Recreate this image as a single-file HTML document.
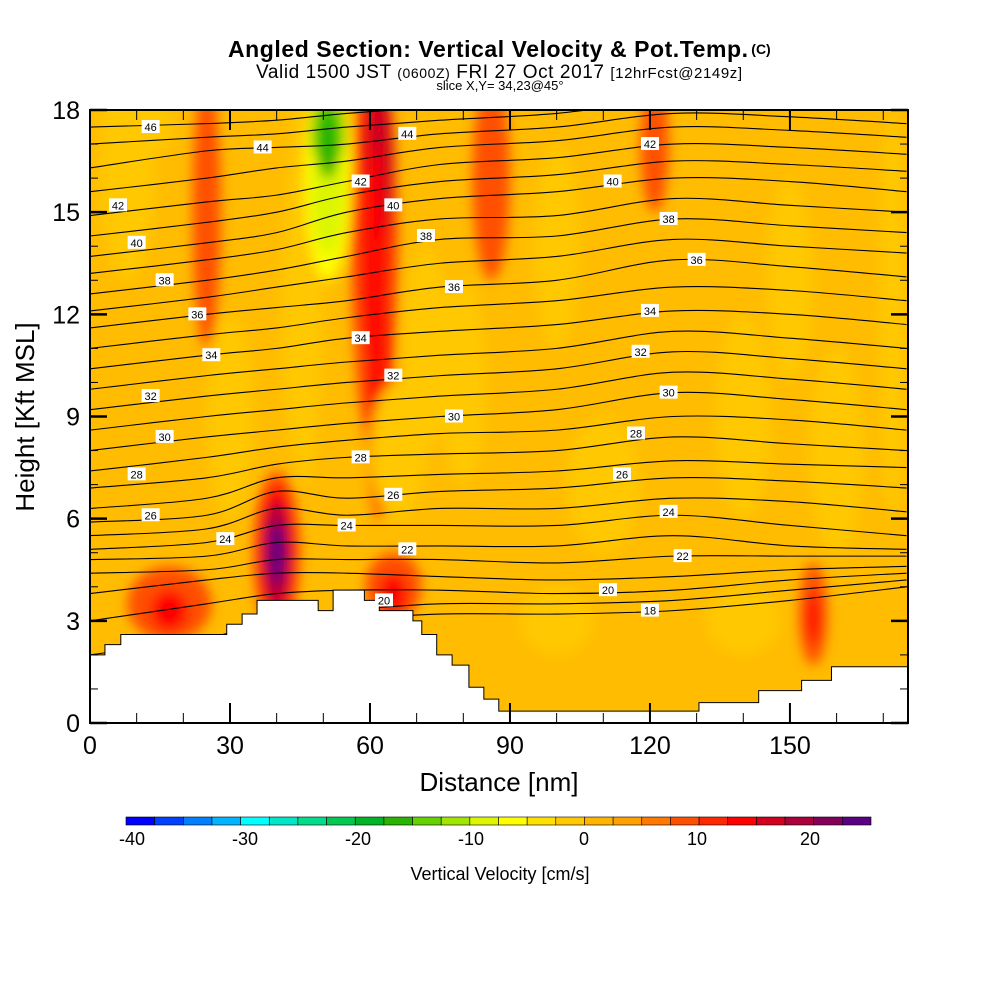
<!DOCTYPE html>
<html><head><meta charset="utf-8"><style>
body{margin:0;background:#fff;}
svg text{font-family:"Liberation Sans",sans-serif;}
</style></head><body>
<svg id="chart" width="1000" height="1000" viewBox="0 0 1000 1000" xmlns="http://www.w3.org/2000/svg">
<defs>
<clipPath id="plotclip"><rect x="90" y="110" width="818" height="613"/></clipPath>
<filter id="blur" x="-20%" y="-20%" width="140%" height="140%"><feGaussianBlur stdDeviation="6"/></filter>
</defs>
<g>
<text x="488" y="57" text-anchor="middle" font-size="23" font-weight="bold" textLength="520">Angled Section: Vertical Velocity &amp; Pot.Temp.</text>
<text x="761" y="54" text-anchor="middle" font-size="14" font-weight="bold">(C)</text>
<text x="499" y="78" text-anchor="middle" font-size="19" textLength="486">Valid 1500 JST <tspan font-size="14">(0600Z)</tspan> FRI 27 Oct 2017 <tspan font-size="15">[12hrFcst@2149z]</tspan></text>
<text x="500" y="90" text-anchor="middle" font-size="13">slice X,Y= 34,23@45°</text>
</g>
<g id="field" clip-path="url(#plotclip)"></g>
<g id="contours" clip-path="url(#plotclip)"></g>
<g id="terrain"></g>
<g id="labels"></g>
<rect x="90" y="110" width="818" height="613" fill="none" stroke="#000" stroke-width="2"/>
<g id="axes"></g>
<text x="499" y="791" text-anchor="middle" font-size="26">Distance [nm]</text>
<text transform="translate(34,417) rotate(-90)" text-anchor="middle" font-size="26">Height [Kft MSL]</text>
<g id="colorbar"></g>
<text x="500" y="880" text-anchor="middle" font-size="18">Vertical Velocity [cm/s]</text>
</svg>
<script>
const NS="http://www.w3.org/2000/svg";
const xTicks=[0,30,60,90,120,150];
const yTicks=[0,3,6,9,12,15,18];
const cbTicks=[-40,-30,-20,-10,0,10,20];
const cbColors=["#0000ff","#0040ff","#0080ff","#00b4ff","#00ffff","#00e6c8","#00dc8c","#00c850","#00b428","#28b400","#64d200","#a0e600","#dcf500","#ffff00","#ffe100","#ffc800","#ffb400","#ffa000","#ff7800","#ff5000","#ff2800","#ff0000","#d2001e","#aa003c","#82005a","#5a0082"];
const sampleX=[0,25,40,55,75,100,125,150,175];
const levels=[18,19,20,21,22,23,24,25,26,27,28,29,30,31,32,33,34,35,36,37,38,39,40,41,42,43,44,45,46];
const levelHeights=[
[1.5,1.8,2.5,3.0,3.2,3.2,3.3,3.6,4.0],
[2,2.5,3,3.3,3.5,3.5,3.6,3.9,4.2],
[3,3.5,3.8,3.9,3.9,3.8,3.9,4.2,4.4],
[3.8,4.2,4.4,4.4,4.3,4.2,4.3,4.5,4.6],
[4.4,4.5,4.8,4.8,4.8,4.7,4.9,4.9,4.9],
[4.8,4.9,5.3,5.2,5.2,5.2,5.5,5.2,5.1],
[5.1,5.3,5.8,5.8,5.8,5.8,6.1,5.8,5.5],
[5.5,5.7,6.3,6.1,6.3,6.3,6.6,6.5,6.2],
[5.9,6.1,6.8,6.6,6.8,6.9,7.2,7.1,6.9],
[6.3,6.6,7.2,7.2,7.3,7.4,7.7,7.6,7.5],
[6.9,7.2,7.6,7.8,7.9,8.0,8.4,8.2,8.0],
[7.4,7.8,8.1,8.3,8.5,8.6,9.0,8.9,8.6],
[8.0,8.4,8.6,8.8,9.0,9.2,9.7,9.5,9.2],
[8.6,9.0,9.2,9.4,9.6,9.8,10.3,10.1,9.8],
[9.2,9.6,9.8,10.0,10.2,10.4,10.9,10.7,10.4],
[9.8,10.2,10.4,10.6,10.8,11.0,11.5,11.3,11.0],
[10.4,10.8,11.0,11.3,11.5,11.7,12.1,12.0,11.7],
[11.0,11.4,11.6,11.9,12.2,12.4,12.8,12.7,12.4],
[11.6,12.0,12.2,12.4,12.8,13.0,13.6,13.4,13.1],
[12.1,12.5,12.8,13.1,13.5,13.7,14.2,14.0,13.8],
[12.6,13.0,13.3,13.7,14.2,14.3,14.8,14.6,14.4],
[13.2,13.6,13.9,14.4,14.8,14.9,15.4,15.2,15.0],
[13.7,14.1,14.4,15.0,15.4,15.6,16.0,15.9,15.6],
[14.3,14.7,15.0,15.5,15.9,16.1,16.5,16.4,16.2],
[14.9,15.3,15.5,15.9,16.4,16.6,17.0,16.9,16.7],
[15.6,16.0,16.3,16.5,16.9,17.1,17.5,17.4,17.2],
[16.3,16.8,16.9,17.0,17.3,17.5,17.9,17.8,17.6],
[17.0,17.2,17.3,17.5,17.7,17.9,18.3,18.2,18.0],
[17.5,17.6,17.7,17.9,18.1,18.3,18.6,18.5,18.4]];
const labelText=["46","44","42","40","38","36","34","32","30","28","26","24","44","42","40","38","36","34","32","30","28","26","24","22","20","42","40","38","36","34","32","30","28","26","24","22","20","18"];
const labelX=[13,37,6,10,16,23,26,13,16,10,13,29,68,58,65,72,78,58,65,78,58,65,55,68,63,120,112,124,130,120,118,124,117,114,124,127,111,120];
const labelY=[17.5,16.9,15.2,14.1,13.0,12.0,10.8,9.6,8.4,7.3,6.1,5.4,17.3,15.9,15.2,14.3,12.8,11.3,10.2,9.0,7.8,6.7,5.8,5.1,3.6,17.0,15.9,14.8,13.6,12.1,10.9,9.7,8.5,7.3,6.2,4.9,3.9,3.3];
const terrainX=[0,3.2,6.6,29.3,32.6,35.8,48.9,52.1,58.8,62.0,69.2,71.1,74.3,77.6,81.2,84.4,87.6,130.5,143.3,152.5,158.9,175.3];
const terrainK=[2.0,2.3,2.6,2.9,3.2,3.6,3.3,3.9,3.6,3.3,3.0,2.6,2.0,1.7,1.05,0.7,0.35,0.6,0.95,1.25,1.65,1.65];
// velocity blobs: x nm, kft, rx nm, ry kft, value cm/s
const blobX=[40,40,40,40, 61,61,62,62,61, 46,51,51,51,51,44, 25,86,121,10,172, 17,17,65,65,155,155, 8,66,100,140,110,150,72,160,100,140,30,80];
const blobK=[5,5,5,5, 14,15,16.5,10,13, 13,16,17.3,15.5,17, 12, 15,16,17,17.5,12, 3.5,3.3,4,3.8,3.2,3.1, 16,8,14,9,7,13,11,8,3,3,9,10];
const blobRX=[5,4,2.8,1.6, 5,4,3,3,2, 4,5,3.5,3.5,2.5,3, 3,4,3,8,3, 9,4,6,3,3,1.5, 6,6,5,6,8,5,5,6,8,8,5,5];
const blobRY=[2.4,2.0,1.5,0.9, 6,5,2.5,4,4, 6,3,1.2,1.8,1,4, 4,3,2,1,6, 1.1,0.6,1,0.6,1.5,0.8, 3,2,3,3,2,3,3,3,1,1,3,3];
const blobV=[5,12,17,23, 5,9,13,8,11, -4,-9,-16,-12,-18,-4, 7,7,6,-4,-4, 7,10,7,10,7,10, -4,-3,-3,-3,-3,-3,-3,-3,-3,-3,-3,-3];
const xScale=v=>90+v*(818/175.3);
const yScale=v=>723-v*(613/18);
function colorFor(v){let i=Math.floor((v+42.5)/2.5);i=Math.max(0,Math.min(cbColors.length-1,i));return cbColors[i];}
function mk(tag,attrs,parent){const e=document.createElementNS(NS,tag);for(const k in attrs)e.setAttribute(k,attrs[k]);parent.appendChild(e);return e;}
const field=document.getElementById('field');
const base=mk('rect',{x:90,y:110,width:818,height:613,fill:"#ffbc00"},field);


const bg=mk('g',{filter:"url(#blur)"},field);
for(let i=0;i<blobX.length;i++){
  const e=mk('ellipse',{cx:xScale(blobX[i]),cy:yScale(blobK[i]),rx:blobRX[i]*818/175.3,ry:blobRY[i]*613/18,fill:colorFor(blobV[i])},bg);
  
  
}
function smoothPath(pts){let d=`M${pts[0][0]},${pts[0][1]}`;for(let i=0;i<pts.length-1;i++){const p0=pts[Math.max(0,i-1)],p1=pts[i],p2=pts[i+1],p3=pts[Math.min(pts.length-1,i+2)];const c1=[p1[0]+(p2[0]-p0[0])/6,p1[1]+(p2[1]-p0[1])/6],c2=[p2[0]-(p3[0]-p1[0])/6,p2[1]-(p3[1]-p1[1])/6];d+=` C${c1[0]},${c1[1]} ${c2[0]},${c2[1]} ${p2[0]},${p2[1]}`;}return d;}
const cg=document.getElementById('contours');
levels.forEach((L,i)=>{
  const pts=sampleX.map((x,j)=>[xScale(x),yScale(levelHeights[i][j])]);
  const p=mk('path',{d:smoothPath(pts),fill:"none",stroke:"#000","stroke-width":1.1},cg);
  
  
});
const tg=document.getElementById('terrain');
let td=`M${xScale(0)},723 L${xScale(0)},${yScale(terrainK[0])}`;
for(let i=1;i<terrainX.length;i++){td+=` L${xScale(terrainX[i])},${yScale(terrainK[i-1])} L${xScale(terrainX[i])},${yScale(terrainK[i])}`;}
td+=` L${xScale(175.3)},723 Z`;
const tp=mk('path',{d:td,fill:"#fff",stroke:"#000","stroke-width":1},tg);


const lg=document.getElementById('labels');
labelText.forEach((t,i)=>{
  const x=xScale(labelX[i]),y=yScale(labelY[i]);
  const r=mk('rect',{x:x-9,y:y-7,width:18,height:13,fill:"#fff"},lg);
  
  
  const tx=mk('text',{x:x,y:y+4,"text-anchor":"middle","font-size":11},lg);
  tx.textContent=t;
  
  
});
const ag=document.getElementById('axes');
for(let v=0;v<=170;v+=10){const x=xScale(v),maj=v%30==0,len=maj?20:10;
  const a=mk('line',{x1:x,y1:723,x2:x,y2:723-len,stroke:"#000","stroke-width":maj?2:1},ag);
  const b=mk('line',{x1:x,y1:110,x2:x,y2:110+len,stroke:"#000","stroke-width":maj?2:1},ag);}
for(let v=0;v<=18;v++){const y=yScale(v),maj=v%3==0,len=maj?17:8;
  const a=mk('line',{x1:90,y1:y,x2:90+len,y2:y,stroke:"#000","stroke-width":maj?2.5:1},ag);
  const b=mk('line',{x1:908,y1:y,x2:908-len,y2:y,stroke:"#000","stroke-width":maj?2.5:1},ag);}
xTicks.forEach(v=>{const t=mk('text',{x:xScale(v),y:754,"text-anchor":"middle","font-size":25},ag);t.textContent=v;});
yTicks.forEach(v=>{const t=mk('text',{x:80,y:yScale(v)+9,"text-anchor":"end","font-size":25},ag);t.textContent=v;});
const cb=document.getElementById('colorbar');
const cbLeft=126,cbW=745/26;
cbColors.forEach((c,i)=>{const r=mk('rect',{x:cbLeft+i*cbW,y:817,width:cbW,height:8,fill:c,stroke:"#000","stroke-width":0.6},cb);});
const cbLabelScale=v=>584+v*11.3;
cbTicks.forEach(v=>{const t=mk('text',{x:cbLabelScale(v),y:845,"text-anchor":"middle","font-size":18},cb);t.textContent=v;});
</script>
</body></html>
